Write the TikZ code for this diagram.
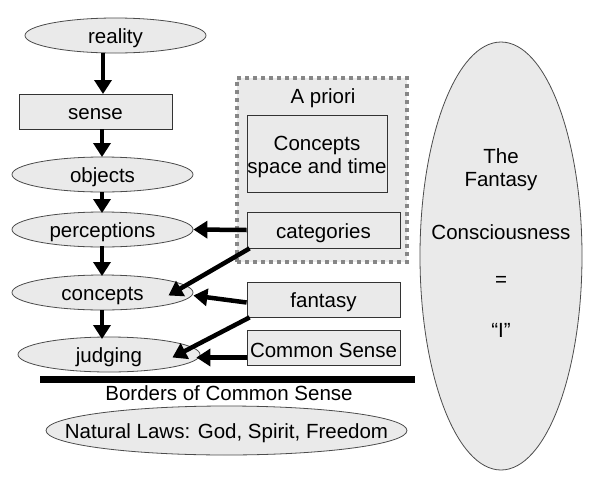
\documentclass[tikz,border=0pt]{standalone}
\usepackage{fontspec}
\setmainfont{Liberation Sans}
\usetikzlibrary{arrows.meta,shapes.geometric}
\definecolor{fillg}{RGB}{234,234,234}
\definecolor{dotg}{RGB}{135,135,135}
\begin{document}
\begin{tikzpicture}[x=1pt,y=-1pt,
  ell/.style={ellipse,draw=black!70,fill=fillg,line width=0.8pt,inner sep=0pt},
  bx/.style={rectangle,draw=black!80,fill=fillg,line width=0.8pt,inner sep=0pt},
  arr/.style={line width=4.5pt,-{Triangle[width=17pt,length=14pt]}},
  txt/.style={font=\fontsize{20.5}{23}\selectfont},
  etxt/.style={label={[txt,align=center,yshift=-3pt]center:#1}}]
\fill[white] (0,0) rectangle (590,480);
% a priori box
\node[rectangle,draw=dotg,fill=fillg,line width=4pt,dash pattern=on 4pt off 4pt,minimum width=170pt,minimum height=184pt] (apriori) at (322,170) {};
\node[txt] (aprioritxt) at (323,98) {A priori};
\node[bx,minimum width=140pt,minimum height=77pt,etxt={Concepts\\space and time}] (cst) at (317,153.5) {};
\node[bx,minimum width=153pt,minimum height=36pt,etxt=categories] (categories) at (323.5,230) {};
\node[bx,minimum width=153pt,minimum height=35pt,etxt=fantasy] (fantasy) at (323.5,299.5) {};
\node[bx,minimum width=153pt,minimum height=35pt,etxt=Common Sense] (common) at (323.5,347.5) {};
% left column
\node[ell,minimum width=181pt,minimum height=35pt,etxt=reality] (reality) at (115.5,35.5) {};
\node[bx,minimum width=153pt,minimum height=35pt,etxt=sense] (sense) at (95.5,111.5) {};
\node[ell,minimum width=181pt,minimum height=35pt,etxt=objects] (objects) at (102.5,174.5) {};
\node[ell,minimum width=181pt,minimum height=35pt,etxt=perceptions] (perceptions) at (102.5,229.5) {};
\node[ell,minimum width=181pt,minimum height=35pt,etxt=concepts] (concepts) at (102.5,292.5) {};
\node[ell,minimum width=182pt,minimum height=35pt,etxt=judging] (judging) at (109,354.5) {};
% border
\coordinate (bl) at (40,379);
\coordinate (br) at (415,379);
\draw[line width=7pt] (bl) -- (br);
\node[txt] (borders) at (229,393) {Borders of Common Sense};
\node[ell,minimum width=361pt,minimum height=49pt,etxt={Natural Laws: God, Spirit, Freedom}] (natural) at (226.5,430.5) {};
% big ellipse
\node[ell,minimum width=162pt,minimum height=428pt] (big) at (501,256) {};
\node[txt,align=center] (bigtxt) at (501,170) {The\\Fantasy};
\node[txt] (consc) at (501,232) {Consciousness};
\node[txt] (eq) at (501,281) {=};
\node[txt] (ii) at (501,330) {“I”};
% vertical arrow coordinates
\coordinate (a1s) at (103,53);  \coordinate (a1e) at (103,94);
\coordinate (a2s) at (102,129); \coordinate (a2e) at (102,157);
\coordinate (a3s) at (102,192); \coordinate (a3e) at (102,213);
\coordinate (a4s) at (102,246); \coordinate (a4e) at (102,276);
\coordinate (a5s) at (102,310); \coordinate (a5e) at (102,339);
\draw[arr] (a1s) -- (a1e);
\draw[arr] (a2s) -- (a2e);
\draw[arr] (a3s) -- (a3e);
\draw[arr] (a4s) -- (a4e);
\draw[arr] (a5s) -- (a5e);
% side arrows
\draw[arr] (categories.west) -- (perceptions.east);
\draw[arr] ([xshift=3pt]categories.south west) -- ([xshift=-25pt,yshift=-3pt]concepts.east);
\draw[arr] ([yshift=-3pt]fantasy.west) -- ([yshift=-3pt]concepts.east);
\draw[arr] ([xshift=3pt]fantasy.south west) -- ([xshift=-28pt,yshift=-3pt]judging.east);
\draw[arr] ([yshift=-10pt]common.west) -- ([yshift=-3pt,xshift=-4pt]judging.east);
\end{tikzpicture}
\end{document}
